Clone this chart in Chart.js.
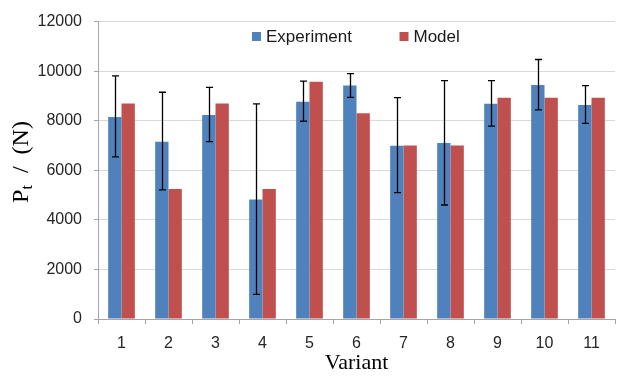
<!DOCTYPE html>
<html>
<head>
<meta charset="utf-8">
<script src="https://cdn.jsdelivr.net/npm/chart.js@4/dist/chart.umd.min.js"></script>
<style>
  html, body { margin: 0; padding: 0; background: #fff; }
  #wrap { width: 622px; height: 379px; position: relative; }
</style>
</head>
<body>
<div id="wrap"><canvas id="c" width="622" height="379"></canvas></div>
<script>
const categories = ['1', '2', '3', '4', '5', '6', '7', '8', '9', '10', '11'];
const experiment = [8150, 7150, 8230, 4820, 8770, 9420, 6990, 7100, 8690, 9440, 8630];
const model      = [8700, 5250, 8700, 5250, 9570, 8300, 7000, 7000, 8930, 8930, 8930];
const errLow     = [6540, 5210, 7160, 990, 7980, 8940, 5100, 4600, 7780, 8440, 7890];
const errHigh    = [9810, 9150, 9350, 8680, 9600, 9900, 8930, 9620, 9620, 10470, 9420];
const yTicks     = [0, 2000, 4000, 6000, 8000, 10000, 12000];
const seriesNames = ['Experiment', 'Model'];

const BLUE = '#4f81bd', RED = '#c0504d';

const errorBars = {
  id: 'errorBars',
  afterDatasetsDraw(chart) {
    const meta = chart.getDatasetMeta(0);
    const ys = chart.scales.y;
    const ctx = chart.ctx;
    ctx.save();
    ctx.strokeStyle = '#000';
    ctx.lineWidth = 1.3;
    meta.data.forEach((bar, i) => {
      const x = Math.round(bar.x) + 0.5;
      const yt = ys.getPixelForValue(errHigh[i]);
      const yb = ys.getPixelForValue(errLow[i]);
      ctx.beginPath();
      ctx.moveTo(x, yt); ctx.lineTo(x, yb);
      ctx.moveTo(x - 3.5, yt); ctx.lineTo(x + 3.5, yt);
      ctx.moveTo(x - 3.5, yb); ctx.lineTo(x + 3.5, yb);
      ctx.stroke();
    });
    ctx.restore();
  }
};

const decorations = {
  id: 'decorations',
  afterDraw(chart) {
    const ctx = chart.ctx;
    ctx.save();
    const items = [
      { x: 252, color: BLUE, label: chart.data.datasets[0].label },
      { x: 399.5, color: RED, label: chart.data.datasets[1].label }
    ];
    ctx.font = '17px "Liberation Sans", Arial, sans-serif';
    ctx.textBaseline = 'middle';
    ctx.textAlign = 'left';
    items.forEach(it => {
      ctx.fillStyle = it.color;
      ctx.fillRect(it.x, 32, 9, 9);
      ctx.fillStyle = '#1a1a1a';
      ctx.fillText(it.label, it.x + 14, 37);
    });
    // y-axis title with subscript
    ctx.translate(28, 162);
    ctx.rotate(-Math.PI / 2);
    ctx.textBaseline = 'alphabetic';
    ctx.fillStyle = '#000';
    const big = '24px "Liberation Serif", "Times New Roman", serif';
    const small = '16px "Liberation Serif", "Times New Roman", serif';
    ctx.font = big; const wP = ctx.measureText('P').width;
    ctx.font = small; const wt = ctx.measureText('t').width;
    ctx.font = big; const rest = '  /  (N)'; const wr = ctx.measureText(rest).width;
    const total = wP + wt + wr;
    let x0 = -total / 2;
    ctx.font = big; ctx.fillText('P', x0, 0); x0 += wP;
    ctx.font = small; ctx.fillText('t', x0, 4); x0 += wt;
    ctx.font = big; ctx.fillText(rest, x0, 0);
    ctx.restore();
  }
};

new Chart(document.getElementById('c'), {
  type: 'bar',
  data: {
    labels: categories,
    datasets: [
      { label: seriesNames[0], data: experiment, backgroundColor: BLUE },
      { label: seriesNames[1], data: model, backgroundColor: RED }
    ]
  },
  options: {
    responsive: false,
    animation: false,
    devicePixelRatio: 1,
    layout: { padding: { left: 0, right: 7, top: 5, bottom: 0 } },
    datasets: { bar: { categoryPercentage: 0.567, barPercentage: 1.0 } },
    plugins: { legend: { display: false }, tooltip: { enabled: false } },
    scales: {
      x: {
        afterFit(s) { s.height = 60; },
        grid: { offset: true, drawOnChartArea: false, tickLength: 5, color: '#a6a6a6' },
        border: { color: '#a6a6a6' },
        ticks: { padding: 10, color: '#262626', font: { family: '"Liberation Sans", Arial, sans-serif', size: 16 } },
        title: { display: true, text: 'Variant', color: '#000', padding: { top: 0, bottom: 3 },
                 font: { family: '"Liberation Serif", "Times New Roman", serif', size: 22 } }
      },
      y: {
        min: 0, max: 12000,
        afterFit(s) { s.width = 98; },
        afterBuildTicks(s) { s.ticks = yTicks.map(v => ({ value: v })); },
        grid: { color: '#d9d9d9', tickColor: '#a6a6a6', tickLength: 4 },
        border: { color: '#a6a6a6' },
        ticks: { padding: 12, color: '#262626', callback: v => String(v),
                 font: { family: '"Liberation Sans", Arial, sans-serif', size: 16 } }
      }
    }
  },
  plugins: [errorBars, decorations]
});
</script>
</body>
</html>
